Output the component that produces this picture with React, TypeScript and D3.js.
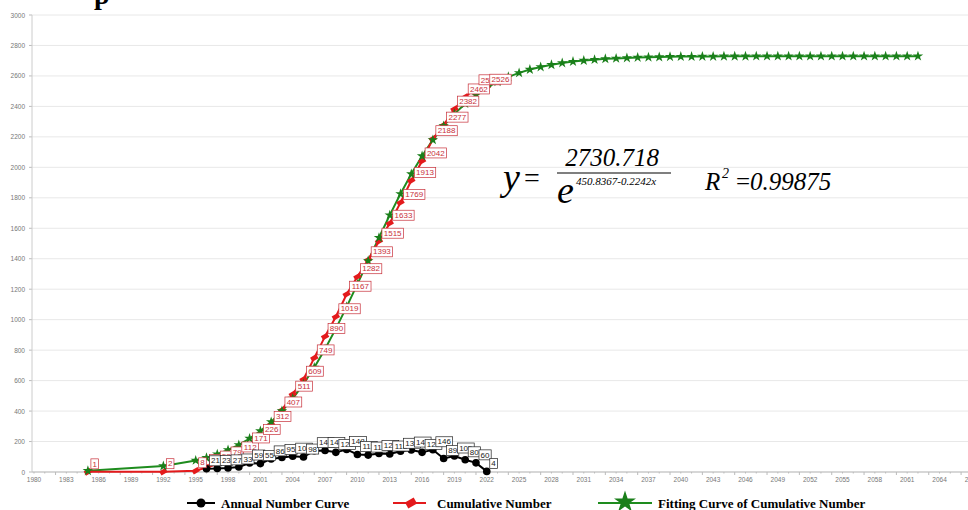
import React from 'react';
import * as d3 from 'd3';

// Annual number (black)
const annualYears = [1996, 1997, 1998, 1999, 2000, 2001, 2002, 2003, 2004, 2005, 2006, 2007, 2008, 2009, 2010, 2011, 2012, 2013, 2014, 2015, 2016, 2017, 2018, 2019, 2020, 2021, 2022];
const annualValues = [21, 23, 27, 33, 59, 55, 86, 95, 104, 98, 140, 141, 129, 148, 115, 111, 122, 118, 136, 144, 129, 146, 89, 105, 80, 60, 4];

// Cumulative number (red)
const cumYears = [1985, 1992, 1995, 1996, 1997, 1998, 1999, 2000, 2001, 2002, 2003, 2004, 2005, 2006, 2007, 2008, 2009, 2010, 2011, 2012, 2013, 2014, 2015, 2016, 2017, 2018, 2019, 2020, 2021, 2022];
const cumValues = [1, 2, 8, 29, 52, 79, 112, 171, 226, 312, 407, 511, 609, 749, 890, 1019, 1167, 1282, 1393, 1515, 1633, 1769, 1913, 2042, 2188, 2277, 2382, 2462, 2522, 2526];

// Fitting curve (green)
const fitYears = [1985, 1992, 1995, 1996, 1997, 1998, 1999, 2000, 2001, 2002, 2003, 2004, 2005, 2006, 2007, 2008, 2009, 2010, 2011, 2012, 2013, 2014, 2015, 2016, 2017, 2018, 2019, 2020, 2021, 2022, 2023, 2024, 2025, 2026, 2027, 2028, 2029, 2030, 2031, 2032, 2033, 2034, 2035, 2036, 2037, 2038, 2039, 2040, 2041, 2042, 2043, 2044, 2045, 2046, 2047, 2048, 2049, 2050, 2051, 2052, 2053, 2054, 2055, 2056, 2057, 2058, 2059, 2060, 2061, 2062];
const fitValues = [8, 39, 76, 94, 117, 145, 178, 220, 269, 329, 400, 482, 578, 686, 808, 941, 1084, 1233, 1386, 1538, 1686, 1826, 1956, 2074, 2180, 2272, 2351, 2418, 2475, 2523, 2562, 2594, 2620, 2642, 2659, 2673, 2685, 2694, 2701, 2707, 2712, 2715, 2718, 2721, 2723, 2724, 2726, 2727, 2727, 2728, 2728, 2729, 2729, 2729, 2730, 2730, 2730, 2730, 2730, 2730, 2730, 2730, 2730, 2730, 2730, 2730, 2730, 2730, 2730, 2730];

const xTicks = d3.range(1980, 2068, 3);
const yTicks = d3.range(0, 3001, 200);

const W = 968;
const H = 510;

const x = d3.scaleLinear().domain([1980, 2067]).range([34, 34 + 87 * 10.78]);
const y = d3.scaleLinear().domain([0, 3000]).range([472, 15]);

const line = d3.line<[number, number]>().x((d) => x(d[0])).y((d) => y(d[1]));

const star = d3.symbol().type(d3.symbolStar).size(34)() as string;
const diamond = d3.symbol().type(d3.symbolSquare).size(22)() as string;

const serif = '"Liberation Serif", "Times New Roman", serif';
const sans = '"Liberation Sans", Arial, sans-serif';

function Label({ px, py, text, color }: { px: number; py: number; text: string; color: string }) {
  const w = text.length * 4.6 + 3;
  return (
    <g transform={`translate(${px + 3},${py - 13})`}>
      <rect width={w} height={10} fill="white" stroke={color} strokeWidth={0.7} />
      <text x={w / 2} y={7.7} textAnchor="middle" fontSize={8} fontFamily={sans} fill={color}>
        {text}
      </text>
    </g>
  );
}

export default function App() {
  const ann = annualYears.map((d, i) => [d, annualValues[i]] as [number, number]);
  const cum = cumYears.map((d, i) => [d, cumValues[i]] as [number, number]);
  const fit = fitYears.map((d, i) => [d, fitValues[i]] as [number, number]);
  const red = '#c8303a';

  return (
    <svg width={W} height={H} style={{ position: 'absolute', left: 0, top: 0, background: 'white' }}>
      <text x={94} y={4} fontFamily={serif} fontWeight="bold" fontSize={28}>p</text>

      {yTicks.map((t) => (
        <g key={t}>
          <line x1={32} x2={W} y1={y(t)} y2={y(t)} stroke="#e8e8e8" strokeWidth={1} />
          <text x={25} y={y(t) + 2.5} textAnchor="end" fontSize={6.5} fontFamily={sans} fill="#777">{t}</text>
          <line x1={29} x2={32} y1={y(t)} y2={y(t)} stroke="#bbb" />
        </g>
      ))}
      <line x1={32} x2={32} y1={y(3000)} y2={y(0)} stroke="#ccc" />
      <line x1={32} x2={W} y1={y(0)} y2={y(0)} stroke="#bbb" />
      {d3.range(1980, 2068).map((t) => (
        <line key={t} x1={x(t)} x2={x(t)} y1={y(0)} y2={y(0) + (t % 3 === 2 ? 3 : 1.5)} stroke="#bbb" />
      ))}
      {xTicks.map((t) => (
        <text key={t} x={x(t)} y={482} textAnchor="middle" fontSize={6.5} fontFamily={sans} fill="#777">{t}</text>
      ))}

      <path d={line(fit) ?? ''} fill="none" stroke="#1e8c1e" strokeWidth={2} />
      <path d={line(cum) ?? ''} fill="none" stroke="#e31a1c" strokeWidth={2} />
      {cum.map((d) => (
        <path key={d[0]} d={diamond} transform={`translate(${x(d[0])},${y(d[1])}) rotate(-30) scale(1.5,1)`} fill="#e31a1c" />
      ))}
      {fit.map((d) => (
        <path key={d[0]} d={star} transform={`translate(${x(d[0])},${y(d[1])})`} fill="#1a7f1a" />
      ))}
      <path d={line(ann) ?? ''} fill="none" stroke="#000" strokeWidth={2} />
      {ann.map((d) => (
        <circle key={d[0]} cx={x(d[0])} cy={y(d[1])} r={3.8} fill="#000" />
      ))}

      {cum.map((d) => (
        <Label key={d[0]} px={x(d[0])} py={y(d[1])} text={String(d[1])} color={red} />
      ))}
      {ann.map((d) => (
        <Label key={d[0]} px={x(d[0])} py={y(d[1])} text={String(d[1])} color="#222" />
      ))}

      {/* equation */}
      <g fontFamily={serif} fontStyle="italic">
        <text x={503} y={190} fontSize={38}>y</text>
        <text x={524} y={187} fontSize={28} fontStyle="normal">=</text>
        <text x={612} y={166} fontSize={25} textAnchor="middle">2730.718</text>
        <line x1={557} x2={671} y1={173} y2={173} stroke="#000" strokeWidth={1.2} />
        <text x={557} y={203} fontSize={38}>e</text>
        <text x={576} y={185} fontSize={11}>450.8367-0.2242x</text>
        <text x={705} y={190} fontSize={25}>R</text>
        <text x={722} y={178} fontSize={14}>2</text>
        <text x={736} y={190} fontSize={25}>
          <tspan fontStyle="normal">=</tspan>0.99875
        </text>
      </g>

      {/* legend */}
      <g fontFamily={serif} fontWeight="bold" fontSize={13}>
        <line x1={187} x2={215} y1={503} y2={503} stroke="#000" strokeWidth={2} />
        <circle cx={201} cy={503} r={4.5} fill="#000" />
        <text x={221} y={507.5}>Annual Number Curve</text>
        <line x1={393} x2={426} y1={503} y2={503} stroke="#e31a1c" strokeWidth={2} />
        <path d={d3.symbol().type(d3.symbolSquare).size(45)() as string} transform="translate(411,503) rotate(-30) scale(1.5,1)" fill="#e31a1c" />
        <text x={437} y={507.5}>Cumulative Number</text>
        <line x1={598} x2={652} y1={503} y2={503} stroke="#1e8c1e" strokeWidth={2} />
        <path d={d3.symbol().type(d3.symbolStar).size(150)() as string} transform="translate(625,502)" fill="#1a7f1a" />
        <text x={658} y={507.5}>Fitting Curve of Cumulative Number</text>
      </g>
    </svg>
  );
}
